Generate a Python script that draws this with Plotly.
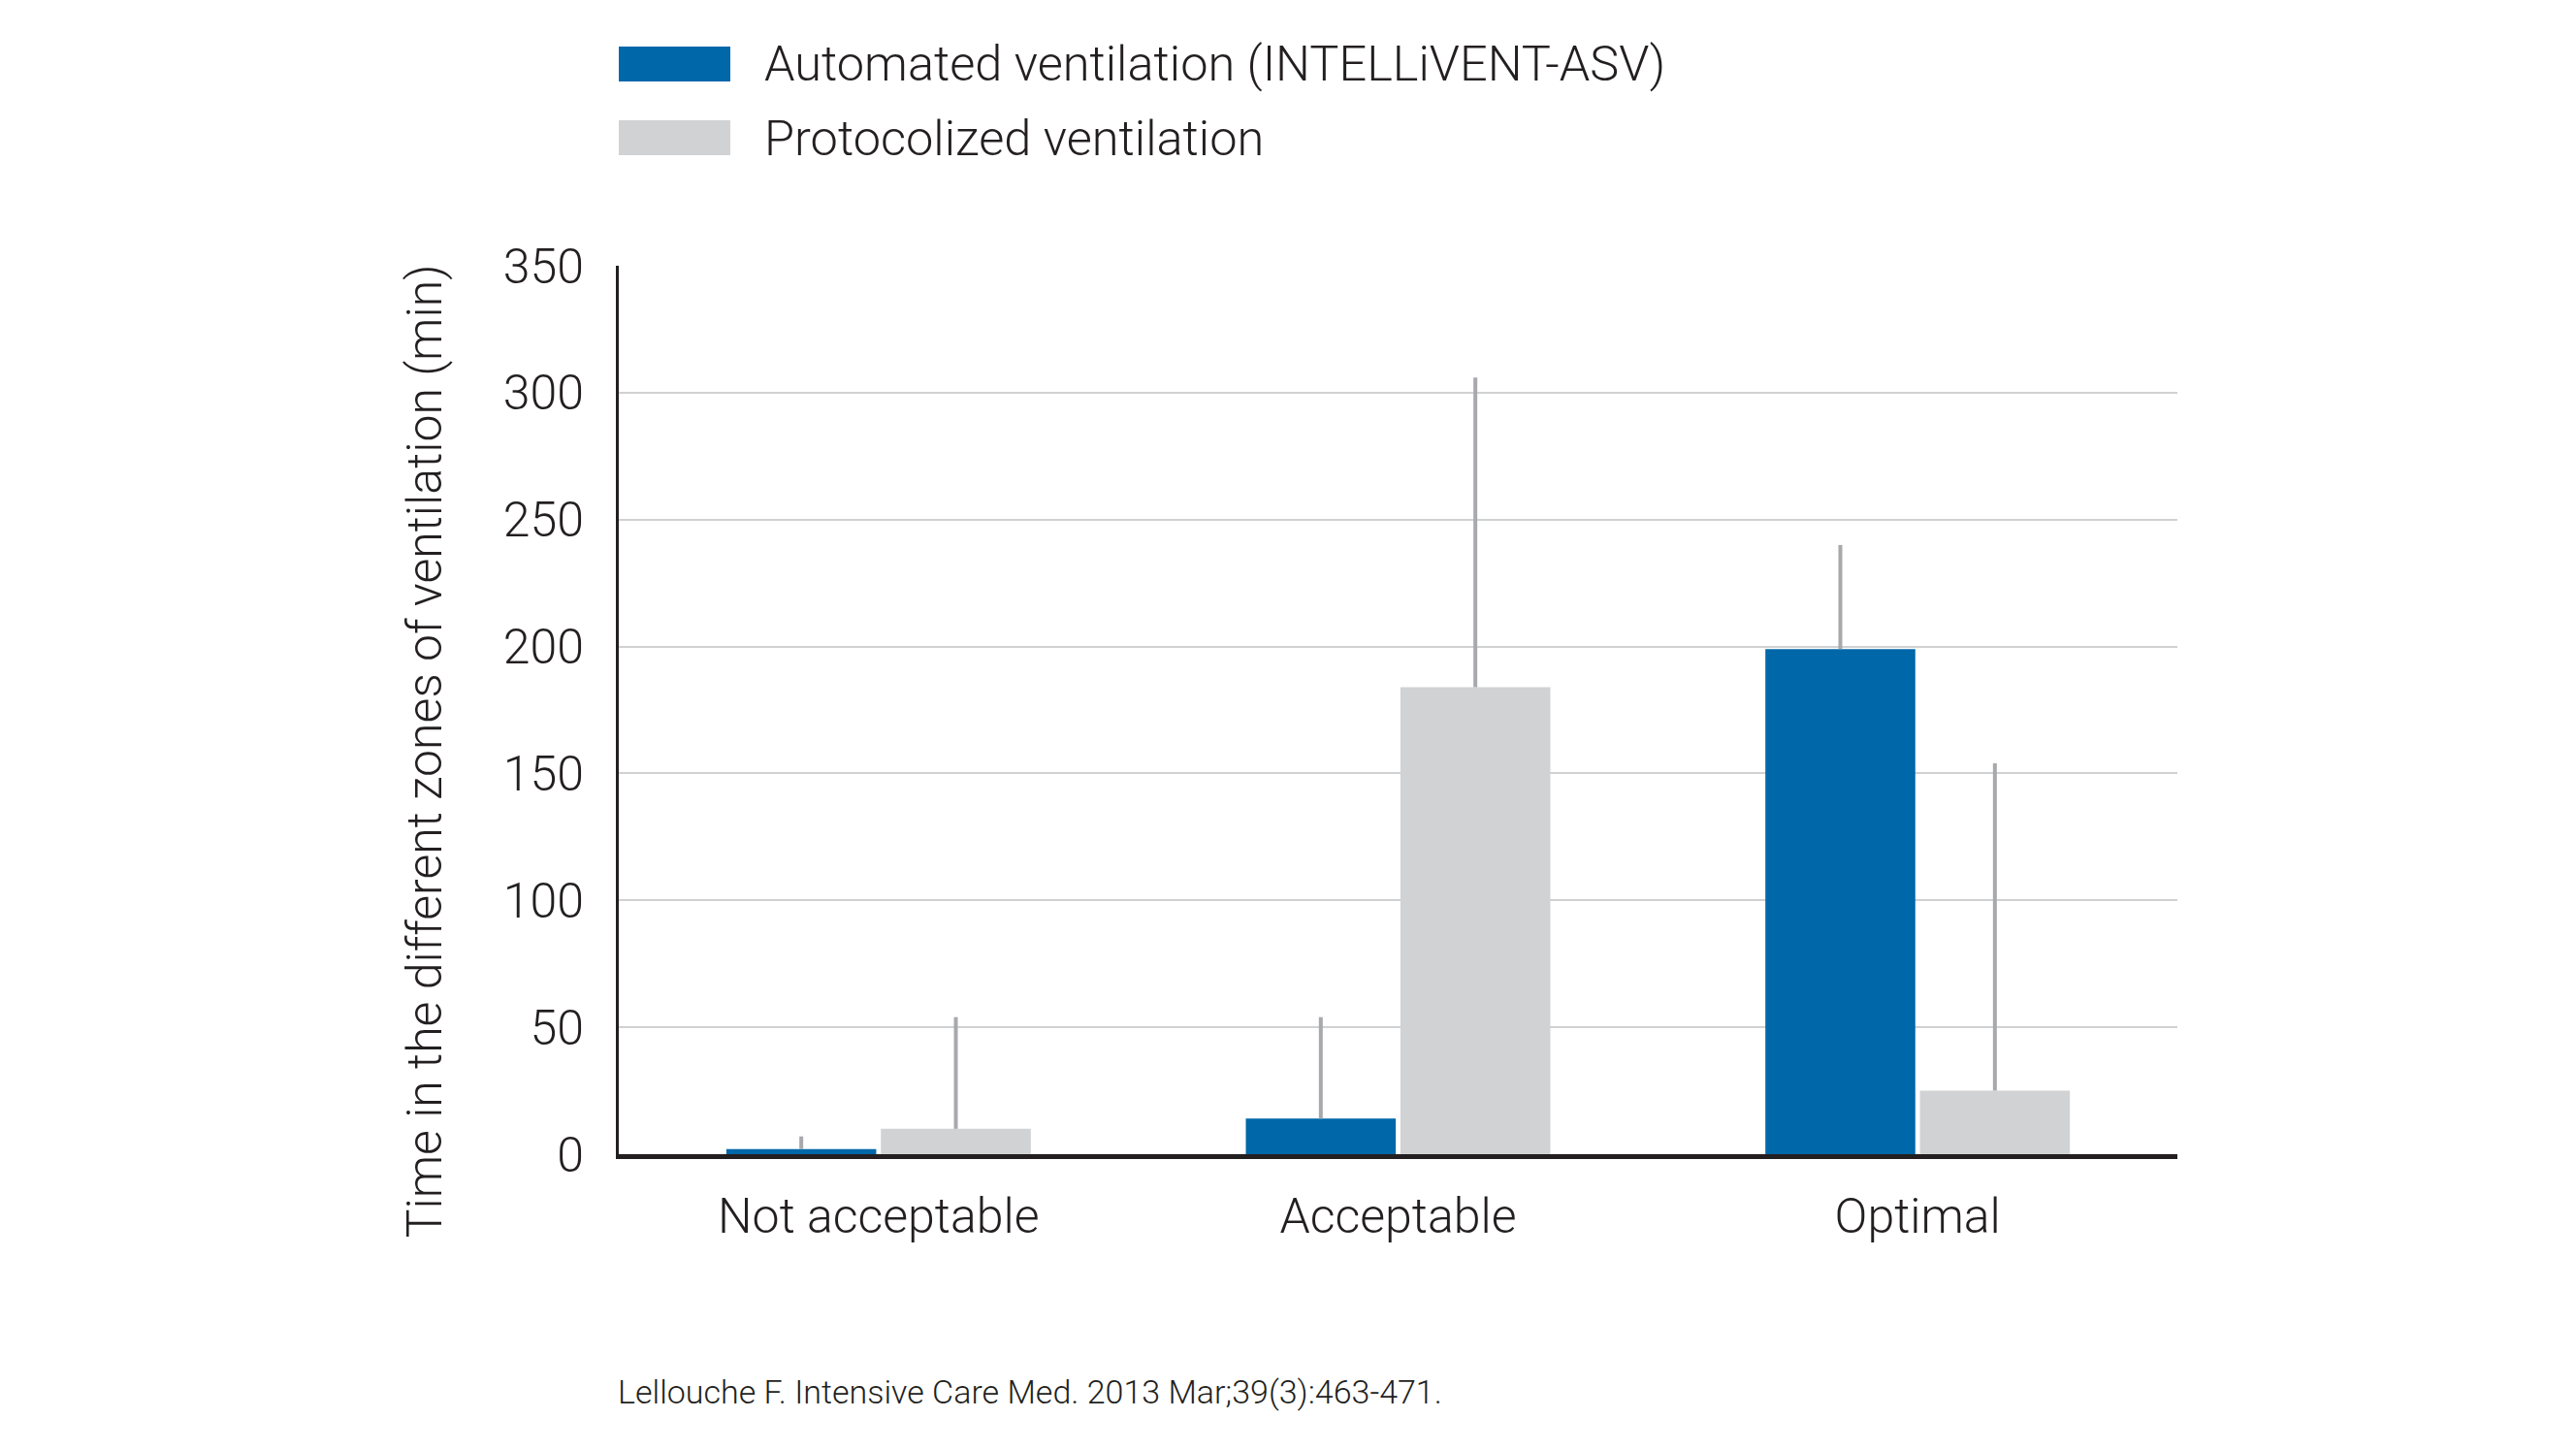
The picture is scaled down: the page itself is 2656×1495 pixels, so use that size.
import plotly.graph_objects as go

categories = ["Not acceptable", "Acceptable", "Optimal"]
automated_mean = [2, 14, 199]
automated_err = [5, 40, 41]
protocol_mean = [10, 184, 25]
protocol_err = [44, 122, 129]
series_names = ["Automated ventilation (INTELLiVENT-ASV)", "Protocolized ventilation"]
y_ticks = [0, 50, 100, 150, 200, 250, 300, 350]

BLUE = "#0067A9"
GREY = "#D1D2D4"
ERR = "#A7A9AC"
DARK = "#231F20"

W, H = 2656, 1495
L, R, T, B = 630, 419, 266, 313
PW, PH = W - L - R, H - T - B


def px(dx):
    # horizontal pixel offset from plot left -> paper
    return dx / PW


def py(dy):
    # vertical pixel offset above plot top -> paper
    return 1 + dy / PH


def font(size):
    return dict(family="Roboto", size=size, color=DARK, weight=300)


fig = go.Figure()
for name, vals, errs, col in [
    (series_names[0], automated_mean, automated_err, BLUE),
    (series_names[1], protocol_mean, protocol_err, GREY),
]:
    fig.add_trace(go.Bar(
        x=categories, y=vals, name=name,
        marker=dict(color=col, line=dict(width=0)),
        error_y=dict(type="data", array=errs, symmetric=False, arrayminus=[0] * len(errs),
                     color=ERR, thickness=4, width=0),
        showlegend=False,
    ))

# legend drawn by hand so the swatches can be wide like the original
for text, col, above in [(series_names[0], BLUE, 208), (series_names[1], GREY, 132)]:
    fig.add_shape(type="rect", xref="paper", yref="paper",
                  x0=0, x1=px(115), y0=py(above - 18), y1=py(above + 18),
                  fillcolor=col, line=dict(width=0))
    fig.add_annotation(text=text, xref="paper", yref="paper", x=px(148), y=py(above),
                       xanchor="left", yanchor="middle", showarrow=False, font=font(50.5))

fig.add_annotation(text="Time in the different zones of ventilation (min)", textangle=-90,
                   xref="paper", yref="paper", x=px(-200), y=0.4538,
                   xanchor="center", yanchor="middle", showarrow=False, font=font(50))

fig.add_annotation(text="Lellouche F. Intensive Care Med. 2013 Mar;39(3):463-471.",
                   xref="paper", yref="paper", x=px(-3), y=-245 / PH,
                   xanchor="left", yanchor="middle", showarrow=False, font=font(34))

fig.update_layout(
    width=W, height=H,
    margin=dict(l=L, r=R, t=T, b=B),
    paper_bgcolor="white", plot_bgcolor="white",
    barmode="group", bargap=0.405, bargroupgap=0.03,
    font=font(48),
)
fig.update_xaxes(showline=True, linecolor=DARK, linewidth=5, ticks="",
                 tickfont=font(50), ticklabelstandoff=16,
                 showgrid=False, zeroline=False)
fig.update_yaxes(range=[0, 350], tickvals=y_ticks, showline=True, linecolor=DARK, linewidth=3,
                 showgrid=True, gridcolor="#D0D1D3", gridwidth=2, zeroline=False,
                 tickfont=font(50), ticks="", ticklabelstandoff=23)

fig.write_html("out.html")
